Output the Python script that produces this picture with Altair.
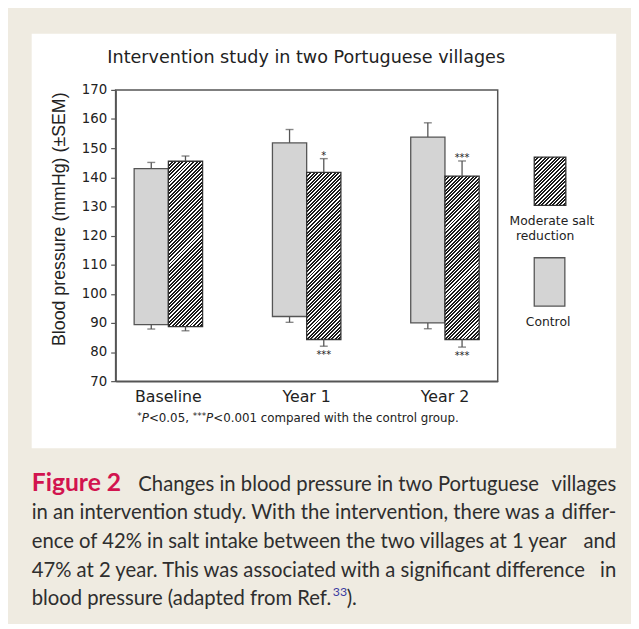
import altair as alt
import pandas as pd

# ---------------- data ----------------
categories = ["Baseline", "Year 1", "Year 2"]
groups = ["Control", "Moderate salt reduction"]

control_systolic = [143.0, 151.8, 153.8]
control_systolic_sem = [2.1, 4.6, 4.9]
control_diastolic = [89.4, 92.2, 90.0]
control_diastolic_sem = [1.5, 2.0, 2.0]

moderate_systolic = [145.5, 141.7, 140.4]
moderate_systolic_sem = [1.8, 4.7, 5.2]
moderate_diastolic = [88.7, 84.3, 84.3]
moderate_diastolic_sem = [1.4, 2.3, 2.6]

sig_systolic = ["", "*", "***"]
sig_diastolic = ["", "***", "***"]

y_ticks = list(range(70, 171, 10))
y_domain = [70, 170]

title_text = "Intervention study in two Portuguese villages"
y_title = "Blood pressure (mmHg) (\u00b1SEM)"
legend_moderate = ["Moderate salt", "reduction"]
legend_control = "Control"
caption_rows = [
    ("Changes in blood pressure in two Portuguese", "villages"),
    ("in an intervention study. With the intervention, there was a", "differ-"),
    ("ence of 42% in salt intake between the two villages at 1 year", "and"),
    ("47% at 2 year. This was associated with a significant difference", "in"),
]
caption_last = "blood pressure (adapted from Ref."

# ---------------- table ----------------
rows = []
for i, c in enumerate(categories):
    rows.append(dict(cat=c, group=groups[0], sys=control_systolic[i], dia=control_diastolic[i],
                     sys_hi=control_systolic[i] + control_systolic_sem[i],
                     dia_lo=control_diastolic[i] - control_diastolic_sem[i],
                     sig_top="", sig_bot=""))
    rows.append(dict(cat=c, group=groups[1], sys=moderate_systolic[i], dia=moderate_diastolic[i],
                     sys_hi=moderate_systolic[i] + moderate_systolic_sem[i],
                     dia_lo=moderate_diastolic[i] - moderate_diastolic_sem[i],
                     sig_top=sig_systolic[i], sig_bot=sig_diastolic[i]))
df = pd.DataFrame(rows)
one = pd.DataFrame({"k": [0]})

# ---------------- layout ----------------
W, H = 387, 295
OX, OY = 117, 87            # page position of plot origin
TOTAL_W, TOTAL_H = 631, 616
PAD = {"left": OX - 8, "top": OY - 8,
       "right": TOTAL_W - (OX - 8) - W, "bottom": TOTAL_H - (OY - 8) - H}
P_IN, P_OUT = 0.505, 0.134
step = W / (len(categories) - P_IN + 2 * P_OUT)
bar_w = step * (1 - P_IN) / 2
ppu = H / (y_domain[1] - y_domain[0])


def px(x):
    return x - OX


def py(y):
    return y - OY


def hatch(w, h, period=3.6, duty=0.55, dark="#1b1b1b", light="#ffffff"):
    n = max(1, int(round((w + h) / period)))
    c = (w + h) / (w * w + h * h)
    stops = []
    for k in range(n):
        a, b, e = k / n, (k + duty) / n, (k + 1) / n
        stops += [alt.GradientStop(color=dark, offset=round(a, 5)),
                  alt.GradientStop(color=dark, offset=round(b, 5)),
                  alt.GradientStop(color=light, offset=round(b, 5)),
                  alt.GradientStop(color=light, offset=round(e, 5))]
    return alt.LinearGradient(gradient="linear", stops=stops,
                              x1=0, y1=0, x2=round(w * c, 5), y2=round(h * c, 5))


AX = "#555555"
FIG_FONT = "DejaVu Sans"

x_enc = alt.X("cat:N", scale=alt.Scale(domain=categories, paddingInner=P_IN, paddingOuter=P_OUT),
              axis=alt.Axis(title=None, labelAngle=0, ticks=False, tickSize=0, labelPadding=8,
                            labelFont=FIG_FONT, labelFontSize=16, labelColor="#222222",
                            domainColor=AX, domainWidth=1.5, zindex=1))
xo_enc = alt.XOffset("group:N", scale=alt.Scale(domain=groups, paddingInner=0, paddingOuter=0))
y_scale = alt.Scale(domain=y_domain, nice=False, zero=False)
y_axis = alt.Axis(title=None, values=y_ticks, tickCount=len(y_ticks), tickSize=5, labelPadding=4,
                  labelFont=FIG_FONT, labelFontSize=13.5, labelColor="#222222", domainColor=AX,
                  domainWidth=1.5, tickColor=AX, tickWidth=1.2, grid=False, labelOverlap=False,
                  labelFlush=False, zindex=1)


def yq(field):
    return alt.Y(field, type="quantitative", scale=y_scale, axis=y_axis)


layers = []

# white figure panel
layers.append(alt.Chart(one).mark_rect(fill="white").encode(
    x=alt.value(px(32)), x2=alt.value(px(624)), y=alt.value(py(30)), y2=alt.value(py(450))))

# control bars
layers.append(alt.Chart(df).transform_filter(alt.datum.group == groups[0]).mark_bar(
    fill="#d4d4d4", stroke="#555555", strokeWidth=1.3).encode(
    x=x_enc, xOffset=xo_enc, y=yq("sys"), y2="dia:Q"))

# hatched bars, one layer each (pattern sized to the bar)
for i, c in enumerate(categories):
    h = (moderate_systolic[i] - moderate_diastolic[i]) * ppu
    layers.append(alt.Chart(df).transform_filter(
        (alt.datum.group == groups[1]) & (alt.datum.cat == c)).mark_bar(
        fill=hatch(bar_w, h), stroke="#333333", strokeWidth=1.3).encode(
        x=x_enc, xOffset=xo_enc, y=yq("sys"), y2="dia:Q"))

# error bars
err_col = "#555555"
layers.append(alt.Chart(df).mark_rule(color=err_col, strokeWidth=1.3).encode(
    x=x_enc, xOffset=xo_enc, y=yq("sys"), y2="sys_hi:Q"))
layers.append(alt.Chart(df).mark_rule(color=err_col, strokeWidth=1.3).encode(
    x=x_enc, xOffset=xo_enc, y=yq("dia"), y2="dia_lo:Q"))
layers.append(alt.Chart(df).mark_tick(orient="horizontal", size=8, thickness=1.4, color=err_col).encode(
    x=x_enc, xOffset=xo_enc, y=yq("sys_hi")))
layers.append(alt.Chart(df).mark_tick(orient="horizontal", size=8, thickness=1.4, color=err_col).encode(
    x=x_enc, xOffset=xo_enc, y=yq("dia_lo")))

# significance stars
layers.append(alt.Chart(df).mark_text(font=FIG_FONT, fontSize=10, baseline="bottom", dy=2,
                                      color="#222222").encode(
    x=x_enc, xOffset=xo_enc, y=yq("sys_hi"), text="sig_top:N"))
layers.append(alt.Chart(df).mark_text(font=FIG_FONT, fontSize=10, baseline="top", dy=4,
                                      color="#222222").encode(
    x=x_enc, xOffset=xo_enc, y=yq("dia_lo"), text="sig_bot:N"))

# plot frame
layers.append(alt.Chart(one).mark_rect(filled=False, stroke=AX, strokeWidth=1.5).encode(
    x=alt.value(0), x2=alt.value(W), y=alt.value(0), y2=alt.value(H)))


def text_layer(s, x, y, **kw):
    return alt.Chart(one).mark_text(**kw).encode(
        x=alt.value(px(x)), y=alt.value(py(y)), text=alt.value(s))


# chart title and y title
layers.append(text_layer(title_text, 310, 55, font=FIG_FONT, fontSize=17.8, color="#222222",
                         align="center", baseline="middle"))
layers.append(text_layer(y_title, 61, 218, font="Liberation Sans", fontSize=18, color="#222222",
                         align="center", baseline="middle", angle=270))

# legend
layers.append(alt.Chart(one).mark_rect(fill=hatch(32, 49), stroke="#333333", strokeWidth=1.3).encode(
    x=alt.value(px(541)), x2=alt.value(px(573)), y=alt.value(py(155)), y2=alt.value(py(204))))
layers.append(alt.Chart(one).mark_rect(fill="#d4d4d4", stroke="#555555", strokeWidth=1.3).encode(
    x=alt.value(px(541)), x2=alt.value(px(572)), y=alt.value(py(257)), y2=alt.value(py(306))))
leg_kw = dict(font=FIG_FONT, fontSize=12.5, color="#222222", align="center", baseline="middle")
layers.append(text_layer(legend_moderate[0], 559, 220, **leg_kw))
layers.append(text_layer(legend_moderate[1], 552, 235, **leg_kw))
layers.append(text_layer(legend_control, 555, 322, **leg_kw))

# footnote: *P<0.05, ***P<0.001 compared with the control group.
adv = {" ": .318, "*": .5, "P": .603, "<": .838, ".": .318, ",": .318}
for d in "0123456789":
    adv[d] = .636


def wid(s, f):
    return sum(adv.get(ch, .58) for ch in s) * f


FN, FS = 12, 9
fx, fy = 139, 423
pieces = [("*", FS, "normal", -3), ("P", FN, "italic", 0), ("<0.05, ", FN, "normal", 0),
          ("***", FS, "normal", -3), ("P", FN, "italic", 0),
          ("<0.001 compared with the control group.", FN, "normal", 0)]
for s, f, st, dy in pieces:
    layers.append(text_layer(s, fx, fy + dy, font=FIG_FONT, fontSize=f, fontStyle=st,
                             color="#222222", align="left", baseline="alphabetic"))
    fx += wid(s, f)

# caption
CAP_FONT, CAP_SIZE, CAP_COL = "Lato", 20.5, "#2e2e2e"
base_y = [493, 522, 551, 580, 609]
layers.append(text_layer("Figure 2", 32, base_y[0], font=CAP_FONT, fontSize=25,
                         fontWeight="bold", color="#d2144f", align="left", baseline="alphabetic"))
for k, (left, right) in enumerate(caption_rows):
    layers.append(text_layer(left, 140 if k == 0 else 32, base_y[k], font=CAP_FONT, fontSize=CAP_SIZE,
                             color=CAP_COL, align="left", baseline="alphabetic"))
    layers.append(text_layer(right, 624, base_y[k], font=CAP_FONT, fontSize=CAP_SIZE,
                             color=CAP_COL, align="right", baseline="alphabetic"))
layers.append(text_layer(caption_last, 32, base_y[4], font=CAP_FONT, fontSize=CAP_SIZE,
                         color=CAP_COL, align="left", baseline="alphabetic"))
layers.append(text_layer("33", 337, base_y[4] - 9, font=CAP_FONT, fontSize=12.5,
                         color="#3a3aa0", align="left", baseline="alphabetic"))
layers.append(text_layer(").", 351, base_y[4], font=CAP_FONT, fontSize=CAP_SIZE,
                         color=CAP_COL, align="left", baseline="alphabetic"))

chart = alt.layer(*layers).properties(
    width=W, height=H, padding=PAD,
    autosize=alt.AutoSizeParams(type="none"),
    background="#efebe1",
).configure_view(strokeWidth=0)

chart.save("out.html", embed_options={"renderer": "svg", "actions": False})
